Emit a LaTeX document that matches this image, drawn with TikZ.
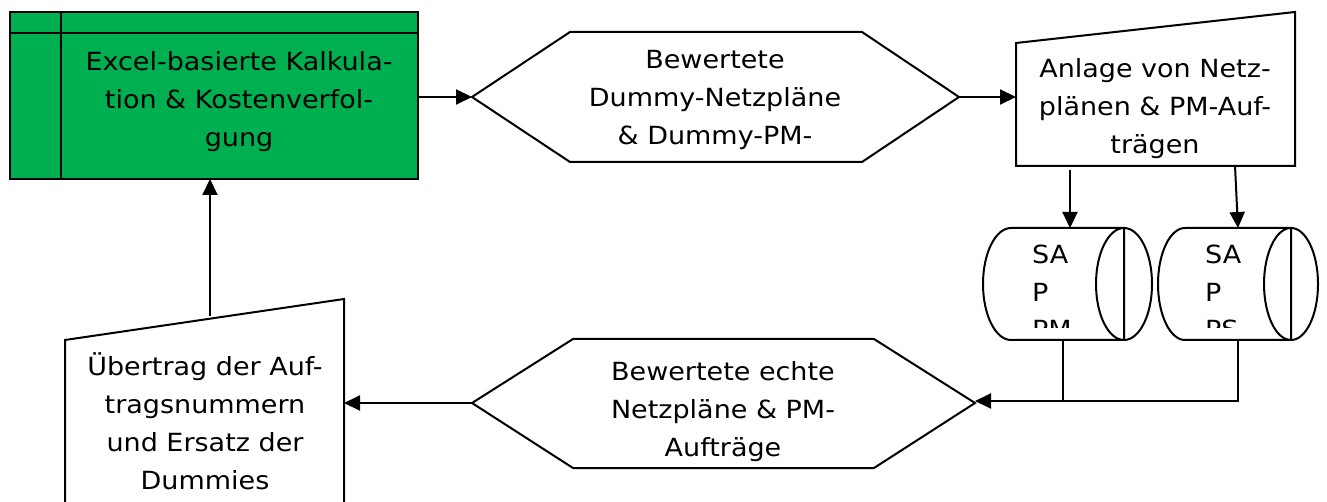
\documentclass[tikz,border=0pt]{standalone}
\usepackage{fontspec}
\setmainfont{DejaVu Sans}[FakeStretch=1.08]
\usetikzlibrary{arrows.meta}
\definecolor{excelgreen}{HTML}{00B050}
\begin{document}
\begin{tikzpicture}[x=1pt,y=-1pt,
  shapeline/.style={draw=black,line width=2pt,line join=miter},
  conn/.style={draw=black,line width=2pt,-{Triangle[length=16pt,width=15pt]}},
  plain/.style={draw=black,line width=2pt},
  txt/.style={font=\fontsize{25}{38}\selectfont,align=center,inner sep=0pt,anchor=base},
  ltxt/.style={font=\fontsize{25}{37}\selectfont,align=left,inner sep=0pt,anchor=base west}]
\useasboundingbox (0,0) rectangle (1327,502);
\clip (0,0) rectangle (1327,502);
% green calculation box
\draw[shapeline,fill=excelgreen] (10,12) rectangle (418,179);
\draw[shapeline] (10,33) -- (418,33) (61,12) -- (61,179);
\node[txt] (calc) at (239,147) {Excel-basierte Kalkula-\\tion \& Kostenverfol-\\gung};
\coordinate (calcR) at (418,97);
\coordinate (calcB) at (210,179);
% hexagon 1
\draw[shapeline,fill=white] (472,97) -- (570,32) -- (862,32) -- (959,97) -- (862,162) -- (570,162) -- cycle;
\node[txt] (hexa) at (715,145) {Bewertete\\Dummy-Netzpläne\\\& Dummy-PM-};
\coordinate (hexaL) at (472,97);
\coordinate (hexaR) at (959,97);
% Anlage trapezoid
\draw[shapeline,fill=white] (1016,43) -- (1295,12) -- (1295,166) -- (1016,166) -- cycle;
\begin{scope}
\clip (1016,12) rectangle (1295,164);
\node[txt] (anl) at (1155,154) {Anlage von Netz-\\plänen \& PM-Auf-\\trägen};
\end{scope}
\coordinate (anlL) at (1016,97);
\coordinate (anlB1) at (1070,170);
\coordinate (anlB2) at (1235,166);
% cylinders
\draw[shapeline,fill=white] (1011,228) -- (1124,228) -- (1124,340) -- (1011,340) arc[start angle=270,end angle=90,x radius=28,y radius=-56];
\draw[shapeline] (1124,284) ellipse[x radius=28,y radius=56];
\draw[shapeline,fill=white] (1185,228) -- (1291,228) -- (1291,340) -- (1185,340) arc[start angle=270,end angle=90,x radius=27,y radius=-56];
\draw[shapeline] (1291,284) ellipse[x radius=27,y radius=56];
\begin{scope}
\clip (1020,236) rectangle (1095,328);
\node[ltxt] (sappm) at (1032,338) {SA\\P\\PM};
\end{scope}
\begin{scope}
\clip (1195,236) rectangle (1263,328);
\node[ltxt] (sapps) at (1205,338) {SA\\P\\PS};
\end{scope}
\coordinate (pmT) at (1070,228);
\coordinate (psT) at (1238,228);
\coordinate (pmB) at (1063,340);
\coordinate (psB) at (1238,340);
\coordinate (pmJ) at (1063,401);
\coordinate (psJ) at (1238,401);
% hexagon 2
\draw[shapeline,fill=white] (472,403) -- (573,339) -- (874,339) -- (975,403) -- (874,468) -- (573,468) -- cycle;
\node[txt] (hexb) at (723,456) {Bewertete echte\\Netzpläne \& PM-\\Aufträge};
\coordinate (hexbL) at (472,403);
\coordinate (hexbR) at (975,401);
% Uebertrag trapezoid
\draw[shapeline,fill=white] (65,340) -- (344,299) -- (344,520) -- (65,520) -- cycle;
\node[txt] (uebt) at (205,489) {Übertrag der Auf-\\tragsnummern\\und Ersatz der\\Dummies};
\coordinate (uebR) at (344,403);
\coordinate (uebT) at (210,316);
% connectors
\draw[conn] (calcR) -- (hexaL);
\draw[conn] (hexaR) -- (anlL);
\draw[conn] (anlB1) -- (pmT);
\draw[conn] (anlB2) -- (psT);
\draw[plain] (pmB) -- (pmJ);
\draw[conn] (psB) -- (psJ) -- (hexbR);
\draw[conn] (hexbL) -- (uebR);
\draw[conn] (uebT) -- (calcB);
\end{tikzpicture}
\end{document}
